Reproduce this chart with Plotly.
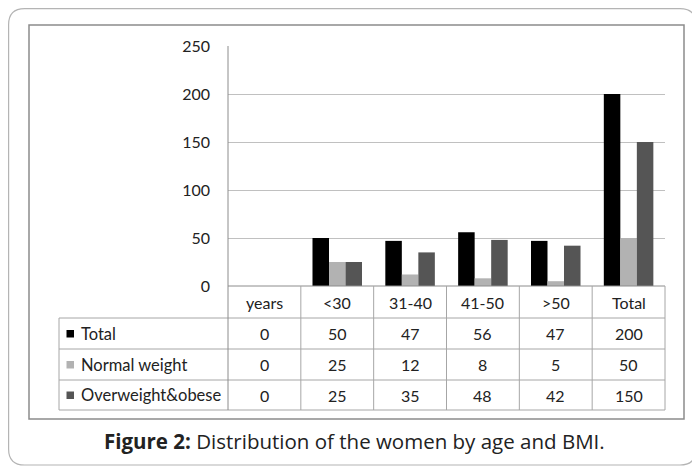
import plotly.graph_objects as go

# ---- data ----
categories = ["years", "<30", "31-40", "41-50", ">50", "Total"]
series_names = ["Total", "Normal weight", "Overweight&obese"]
total_vals = [0, 50, 47, 56, 47, 200]
normal_vals = [0, 25, 12, 8, 5, 50]
over_vals = [0, 25, 35, 48, 42, 150]
y_ticks = [0, 50, 100, 150, 200, 250]
caption_bold = "Figure 2:"
caption_rest = " Distribution of the women by age and BMI."

W, H = 700, 468
OFF = 8  # page offset of the figure inside the browser window
def px(x):
    return (x - OFF) / W
def py(y):
    return 1 - (y - OFF) / H

colors = ["#000000", "#b2b2b2", "#555555"]
series_vals = [total_vals, normal_vals, over_vals]

# plot area in window pixels
PL, PR, PT, PB = 228, 665, 46, 286
colw = (PR - PL) / len(categories)

fig = go.Figure()
for name, vals, c in zip(series_names, series_vals, colors):
    fig.add_trace(go.Bar(x=categories, y=vals, name=name, marker=dict(color=c, line=dict(width=0)),
                         showlegend=False))

font_tbl = "Lato, 'Open Sans', sans-serif"
TXT = "#222222"
FS = 16
shapes = []
ann = []

# outer rounded box
x0, x1, y0, y1, r = 8.6, 696, 8.6, 465, 16
path = (f"M {px(x0+r)},{py(y0)} L {px(x1-r)},{py(y0)} Q {px(x1)},{py(y0)} {px(x1)},{py(y0+r)} "
        f"L {px(x1)},{py(y1-r)} Q {px(x1)},{py(y1)} {px(x1-r)},{py(y1)} "
        f"L {px(x0+r)},{py(y1)} Q {px(x0)},{py(y1)} {px(x0)},{py(y1-r)} "
        f"L {px(x0)},{py(y0+r)} Q {px(x0)},{py(y0)} {px(x0+r)},{py(y0)} Z")
shapes.append(dict(type="path", xref="paper", yref="paper", path=path,
                   line=dict(color="#b4b4b4", width=1.2)))
# inner chart box
shapes.append(dict(type="rect", xref="paper", yref="paper", x0=px(29), x1=px(684), y0=py(25), y1=py(419),
                   line=dict(color="#8c8c8c", width=1.5)))

# table geometry
TL = 59
rows_y = [286, 318, 349, 380, 410]
line_c = "#a6a6a6"
def hline(y, xa, xb, c=line_c):
    shapes.append(dict(type="line", xref="paper", yref="paper", x0=px(xa), x1=px(xb), y0=py(y), y1=py(y),
                       line=dict(color=c, width=1)))
def vline(x, ya, yb, c=line_c):
    shapes.append(dict(type="line", xref="paper", yref="paper", x0=px(x), x1=px(x), y0=py(ya), y1=py(yb),
                       line=dict(color=c, width=1)))

hline(286, PL, PR, "#8c8c8c")
for y in rows_y[1:]:
    hline(y, TL, PR)
vline(TL, 318, 410)
for k in range(len(categories) + 1):
    vline(PL + k * colw, 286 if k > 0 else PT, 410, "#8c8c8c" if k == 0 else line_c)

# header row text
for k, cat in enumerate(categories):
    ann.append(dict(xref="paper", yref="paper", x=px(PL + (k + 0.5) * colw), y=py((286 + 318) / 2),
                    text=cat, showarrow=False, font=dict(family=font_tbl, size=FS, color=TXT),
                    xanchor="center", yanchor="middle"))
# data rows
for i, (name, vals, c) in enumerate(zip(series_names, series_vals, colors)):
    yc = (rows_y[i + 1] + rows_y[i + 2]) / 2
    shapes.append(dict(type="rect", xref="paper", yref="paper", x0=px(66.5), x1=px(74), y0=py(yc - 3.5),
                       y1=py(yc + 4), fillcolor=c, line=dict(width=0)))
    ann.append(dict(xref="paper", yref="paper", x=px(79), y=py(yc), text=name, showarrow=False,
                    font=dict(family=font_tbl, size=16.5, color=TXT), xanchor="left", yanchor="middle"))
    for k, v in enumerate(vals):
        ann.append(dict(xref="paper", yref="paper", x=px(PL + (k + 0.5) * colw), y=py(yc), text=str(v),
                        showarrow=False, font=dict(family=font_tbl, size=FS, color=TXT),
                        xanchor="center", yanchor="middle"))

# caption
ann.append(dict(xref="paper", yref="paper", x=px(354.5), y=py(441),
                text=f"<b>{caption_bold}</b>{caption_rest}", showarrow=False,
                font=dict(family="'Open Sans', sans-serif", size=20.5, color=TXT),
                xanchor="center", yanchor="middle"))

fig.update_layout(
    width=W, height=H, margin=dict(l=0, r=0, t=0, b=0, autoexpand=False),
    paper_bgcolor="white", plot_bgcolor="white",
    barmode="group", bargap=0.32, bargroupgap=0,
    xaxis=dict(domain=[px(PL), px(PR)], range=[-0.5, len(categories) - 0.5], showticklabels=False,
               showgrid=False, zeroline=False, showline=False, ticks="", fixedrange=True,
               automargin=False),
    yaxis=dict(domain=[py(PB), py(PT)], range=[0, 250], tickvals=y_ticks, showgrid=True,
               gridcolor="#c0c0c0", gridwidth=1, zeroline=False, showline=False, ticks="",
               automargin=False, ticklabelstandoff=17,
               tickfont=dict(family=font_tbl, size=FS, color=TXT)),
    shapes=shapes, annotations=ann, font=dict(family=font_tbl),
)

fig.write_html("out.html")
